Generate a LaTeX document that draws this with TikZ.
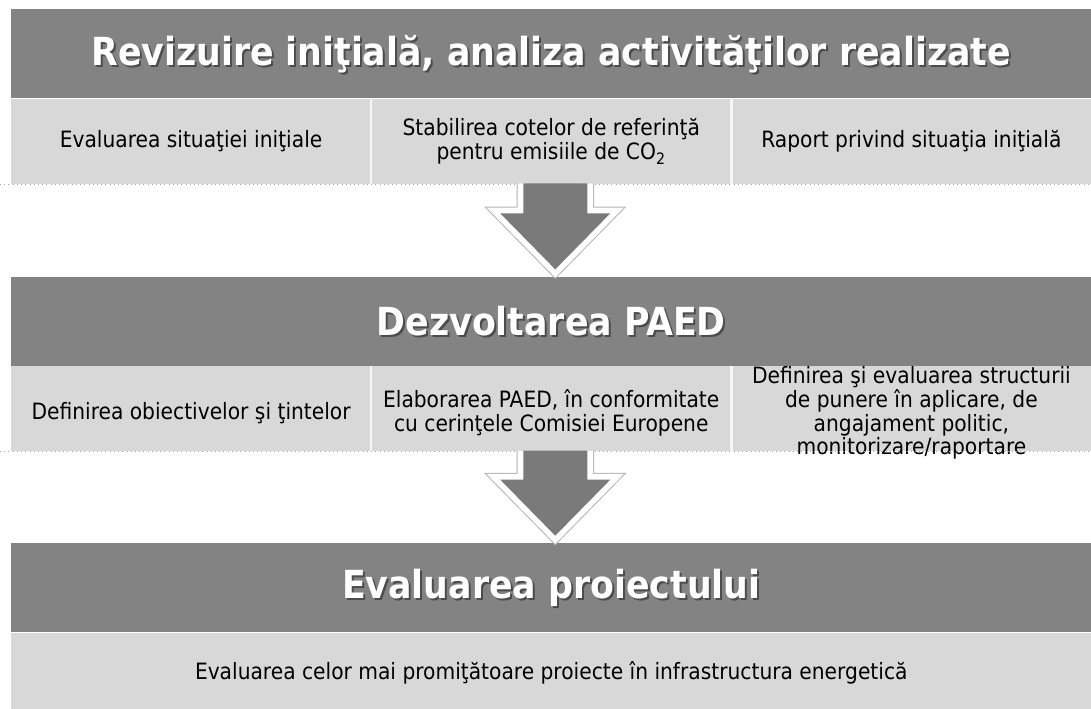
\documentclass[tikz,border=0pt]{standalone}
\usepackage{fontspec}
\setmainfont{DejaVu Sans Condensed}
\usetikzlibrary{positioning,calc}

\definecolor{bandgray}{HTML}{838383}
\definecolor{stripegray}{HTML}{D8D8D8}
\definecolor{arrowgray}{HTML}{7A7A7A}

\tikzset{
  hdr/.style={fill=bandgray, minimum width=21.6cm, minimum height=1.78cm, inner sep=0pt, anchor=north west},
  hdrtext/.style={text=white, font=\fontsize{22}{25}\selectfont\bfseries},
  hdrshade/.style={text=black!70, font=\fontsize{22}{25}\selectfont\bfseries},
  stripe/.style={fill=stripegray, minimum width=21.6cm, minimum height=1.70cm, inner sep=0pt},
  cell/.style={align=center, font=\fontsize{12.8}{13.6}\selectfont, inner sep=0pt},
  divider/.style={draw=white!80!stripegray, line width=0.05cm},
  rowedge/.style={draw=gray!70, dotted, line width=0.4pt},
  blockarrow/.style={fill=arrowgray,
    preaction={draw=gray!60, line width=0.27cm},
    preaction={draw=white, line width=0.23cm}}
}

\begin{document}
\begin{tikzpicture}[x=0.02cm, y=-0.02cm]
  \useasboundingbox (0,0) rectangle (1091,709);
  \coordinate (leftEdge) at (0,0);
  \coordinate (rightEdge) at (1091,0);

  % step 1
  \node[hdr] (revHdr) at (11,9) {};
  \node[hdrshade] at ([shift={(2,2)}]revHdr.center) {Revizuire iniţială, analiza activităţilor realizate};
  \node[hdrtext] (revTitle) at (revHdr.center) {Revizuire iniţială, analiza activităţilor realizate};
  \node[stripe, below right=0pt and 0pt of revHdr.south west] (revRow) {};
  \node[cell] (revA) at ($(revRow.west)!1/6!(revRow.east)$) {Evaluarea situaţiei iniţiale};
  \node[cell] (revB) at (revRow.center) {Stabilirea cotelor de referinţă\\pentru emisiile de CO\textsubscript{2}};
  \node[cell] (revC) at ($(revRow.west)!5/6!(revRow.east)$) {Raport privind situaţia iniţială};
  \foreach \f in {1/3,2/3}
    \draw[divider] ($(revRow.north west)!\f!(revRow.north east)$) -- ($(revRow.south west)!\f!(revRow.south east)$);
  \draw[rowedge] (revRow.south -| leftEdge) -- (revRow.south -| rightEdge);

  % step 2
  \node[hdr, below right=1.84cm and 0pt of revRow.south west] (devHdr) {};
  \node[hdrshade] at ([shift={(2,2)}]devHdr.center) {Dezvoltarea PAED};
  \node[hdrtext] (devTitle) at (devHdr.center) {Dezvoltarea PAED};
  \node[stripe, below right=0pt and 0pt of devHdr.south west] (devRow) {};
  \node[cell] (devA) at ($(devRow.west)!1/6!(devRow.east)+(0,4)$) {Definirea obiectivelor şi ţintelor};
  \node[cell] (devB) at ($(devRow.center)+(0,4)$) {Elaborarea PAED, în conformitate\\cu cerinţele Comisiei Europene};
  \node[cell] (devC) at ($(devRow.west)!5/6!(devRow.east)+(0,4)$) {Definirea şi evaluarea structurii\\de punere în aplicare, de\\angajament politic,\\monitorizare/raportare};
  \foreach \f in {1/3,2/3}
    \draw[divider] ($(devRow.north west)!\f!(devRow.north east)$) -- ($(devRow.south west)!\f!(devRow.south east)$);
  \draw[rowedge] (devRow.south -| leftEdge) -- (devRow.south -| rightEdge);

  % step 3
  \node[hdr, below right=1.82cm and 0pt of devRow.south west] (evaHdr) {};
  \node[hdrshade] at ([shift={(2,2)}]evaHdr.center) {Evaluarea proiectului};
  \node[hdrtext] (evaTitle) at (evaHdr.center) {Evaluarea proiectului};
  \node[stripe, minimum height=1.62cm, below right=0pt and 0pt of evaHdr.south west] (evaRow) {};
  \node[cell] (evaA) at (evaRow.center) {Evaluarea celor mai promiţătoare proiecte în infrastructura energetică};

  % arrows between the steps
  \foreach \from/\to in {revRow/devHdr, devRow/evaHdr} {
    \coordinate (top) at ($(\from.south)+(4,-1)$);
    \coordinate (tip) at ($(\to.north)+(4,-7)$);
    \path[blockarrow] ($(top)+(-32,0)$) -- ($(tip)+(-32,-56)$) -- ($(tip)+(-55,-56)$)
      -- (tip) -- ($(tip)+(55,-56)$) -- ($(tip)+(32,-56)$) -- ($(top)+(32,0)$);
  }
\end{tikzpicture}
\end{document}
